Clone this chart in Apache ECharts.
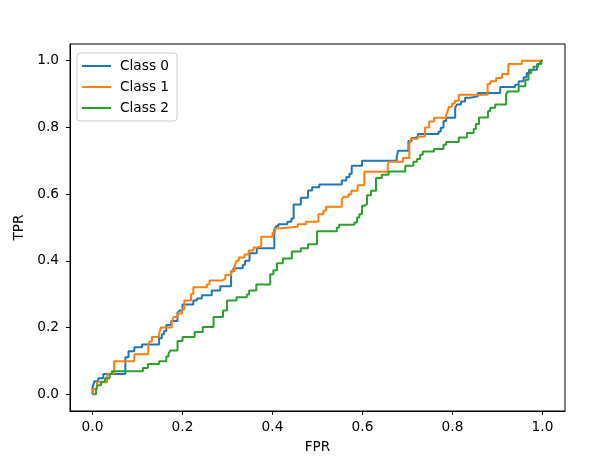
<!DOCTYPE html>
<html>
<head>
<meta charset="utf-8">
<script src="https://cdn.jsdelivr.net/npm/echarts@6/dist/echarts.min.js"></script>
<style>
  html, body { margin: 0; padding: 0; background: #fff; }
  #roc { width: 606px; height: 459px; }
</style>
</head>
<body>
<div id="roc"></div>
<script>
// ROC corner points (value changes at each fpr)
var class0Fpr = [0, 0.0, 0.004, 0.013, 0.024, 0.073, 0.080, 0.093, 0.110, 0.148, 0.154, 0.159, 0.164, 0.175, 0.189, 0.193, 0.200, 0.224, 0.232, 0.243, 0.265, 0.284, 0.308, 0.313, 0.334, 0.339, 0.349, 0.365, 0.404, 0.408, 0.413, 0.433, 0.442, 0.447, 0.463, 0.479, 0.488, 0.504, 0.554, 0.564, 0.571, 0.576, 0.599, 0.676, 0.679, 0.702, 0.709, 0.716, 0.723, 0.769, 0.774, 0.780, 0.786, 0.806, 0.810, 0.819, 0.828, 0.839, 0.856, 0.906, 0.939, 0.947, 0.958, 0.965, 0.970, 0.988, 0.995, 1];
var class0Tpr = [0, 0.020, 0.039, 0.048, 0.061, 0.111, 0.129, 0.141, 0.149, 0.168, 0.180, 0.190, 0.208, 0.220, 0.245, 0.251, 0.269, 0.281, 0.287, 0.297, 0.311, 0.324, 0.368, 0.378, 0.388, 0.400, 0.423, 0.438, 0.494, 0.504, 0.510, 0.517, 0.527, 0.569, 0.589, 0.611, 0.621, 0.629, 0.641, 0.651, 0.661, 0.685, 0.700, 0.710, 0.730, 0.759, 0.768, 0.773, 0.780, 0.788, 0.799, 0.819, 0.829, 0.859, 0.869, 0.878, 0.889, 0.893, 0.903, 0.921, 0.928, 0.938, 0.950, 0.963, 0.973, 0.990, 0.999, 1];

var class1Fpr = [0, 0.002, 0.010, 0.032, 0.034, 0.048, 0.093, 0.124, 0.127, 0.132, 0.148, 0.152, 0.176, 0.180, 0.189, 0.199, 0.204, 0.219, 0.224, 0.254, 0.260, 0.288, 0.295, 0.308, 0.316, 0.320, 0.325, 0.338, 0.347, 0.358, 0.367, 0.375, 0.400, 0.406, 0.420, 0.456, 0.474, 0.502, 0.513, 0.519, 0.554, 0.558, 0.569, 0.575, 0.589, 0.604, 0.656, 0.658, 0.690, 0.704, 0.708, 0.723, 0.739, 0.748, 0.759, 0.786, 0.789, 0.792, 0.799, 0.805, 0.814, 0.878, 0.884, 0.897, 0.910, 0.924, 0.954, 1];
var class1Tpr = [0, 0.016, 0.036, 0.051, 0.062, 0.099, 0.120, 0.150, 0.158, 0.172, 0.182, 0.200, 0.214, 0.232, 0.242, 0.255, 0.281, 0.301, 0.321, 0.329, 0.341, 0.346, 0.358, 0.370, 0.385, 0.400, 0.410, 0.419, 0.431, 0.440, 0.444, 0.472, 0.485, 0.498, 0.502, 0.510, 0.517, 0.540, 0.550, 0.562, 0.583, 0.592, 0.600, 0.610, 0.627, 0.667, 0.687, 0.697, 0.708, 0.750, 0.766, 0.773, 0.800, 0.818, 0.829, 0.838, 0.848, 0.862, 0.872, 0.880, 0.898, 0.930, 0.938, 0.948, 0.960, 0.990, 1.000, 1];

var class2Fpr = [0, 0.008, 0.011, 0.019, 0.028, 0.038, 0.043, 0.112, 0.123, 0.148, 0.164, 0.169, 0.173, 0.189, 0.200, 0.227, 0.245, 0.269, 0.290, 0.299, 0.320, 0.343, 0.348, 0.364, 0.395, 0.402, 0.410, 0.423, 0.443, 0.463, 0.479, 0.499, 0.543, 0.548, 0.582, 0.588, 0.593, 0.599, 0.604, 0.610, 0.619, 0.630, 0.643, 0.658, 0.695, 0.713, 0.721, 0.728, 0.734, 0.759, 0.780, 0.786, 0.814, 0.832, 0.847, 0.852, 0.859, 0.879, 0.884, 0.895, 0.919, 0.923, 0.947, 0.962, 0.969, 0.975, 0.980, 0.990, 0.997, 1];
var class2Tpr = [0, 0.014, 0.027, 0.038, 0.048, 0.061, 0.069, 0.079, 0.091, 0.099, 0.113, 0.122, 0.131, 0.160, 0.172, 0.187, 0.202, 0.232, 0.251, 0.281, 0.291, 0.299, 0.311, 0.329, 0.360, 0.372, 0.393, 0.407, 0.428, 0.438, 0.450, 0.489, 0.500, 0.508, 0.515, 0.530, 0.540, 0.565, 0.570, 0.597, 0.610, 0.648, 0.658, 0.668, 0.685, 0.697, 0.705, 0.718, 0.728, 0.735, 0.748, 0.756, 0.770, 0.783, 0.795, 0.810, 0.830, 0.849, 0.859, 0.869, 0.899, 0.908, 0.923, 0.943, 0.962, 0.972, 0.982, 0.990, 1.000, 1];

var classNames = ['Class 0', 'Class 1', 'Class 2'];
var colors = ['#1f77b4', '#ff7f0e', '#2ca02c'];
var tickValues = [0, 0.2, 0.4, 0.6, 0.8, 1.0];

function pairs(xs, ys) {
    var out = [];
    for (var i = 0; i < xs.length; i++) out.push([xs[i], ys[i]]);
    return out;
}

var curves = [pairs(class0Fpr, class0Tpr), pairs(class1Fpr, class1Tpr), pairs(class2Fpr, class2Tpr)];

var myChart = echarts.init(document.getElementById('roc'), null, {renderer: 'canvas'});
var fontFam = 'DejaVu Sans';

function valueAxis(name, isX) {
    return {
        type: 'value',
        min: -0.05,
        max: 1.05,
        name: name,
        nameLocation: 'middle',
        nameGap: isX ? 29 : 36,
        nameTextStyle: {color: '#000', fontFamily: fontFam, fontSize: 13.7},
        axisLine: {show: true, onZero: false, lineStyle: {color: '#000', width: 1}},
        axisTick: {show: true, inside: false, length: 4, customValues: tickValues, lineStyle: {color: '#000', width: 1}},
        axisLabel: {
            customValues: tickValues,
            margin: isX ? 9 : 11,
            color: '#000',
            fontFamily: fontFam,
            fontSize: 13.7,
            formatter: function (v) { return v.toFixed(1); }
        },
        splitLine: {show: false}
    };
}

var series = [];
for (var i = 0; i < curves.length; i++) {
    series.push({
        name: classNames[i],
        type: 'line',
        step: 'end',
        data: curves[i],
        showSymbol: false,
        symbol: 'none',
        animation: false,
        lineStyle: {color: colors[i], width: 2},
        itemStyle: {color: colors[i]}
    });
}

var option = {
    backgroundColor: '#fff',
    animation: false,
    grid: {left: 70, right: 41, top: 44, bottom: 45, show: true, borderColor: '#000', borderWidth: 1},
    legend: {
        orient: 'vertical',
        left: 77,
        top: 53,
        padding: [6, 8, 6, 5],
        itemWidth: 29,
        itemHeight: 2,
        itemGap: 7,
        icon: 'rect',
        backgroundColor: 'rgba(255,255,255,0.8)',
        borderColor: '#cccccc',
        borderWidth: 1,
        borderRadius: 3,
        textStyle: {color: '#000', fontFamily: fontFam, fontSize: 13.7, padding: [0, 0, 0, 4]},
        data: classNames
    },
    xAxis: valueAxis('FPR', true),
    yAxis: valueAxis('TPR', false),
    series: series
};
myChart.setOption(option, true);
</script>
</body>
</html>
